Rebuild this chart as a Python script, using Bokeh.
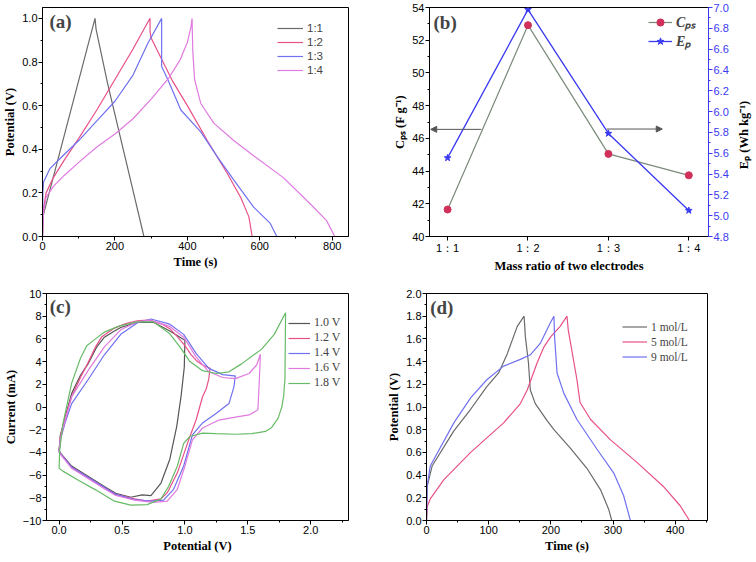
import math
from bokeh.plotting import figure
from bokeh.models import (Range1d, LinearAxis, SingleIntervalTicker, FixedTicker, Legend, LegendItem,
                          Label, Arrow, NormalHead, NumeralTickFormatter)
from bokeh.core.properties import value
from bokeh.layouts import row, column
from bokeh.embed import file_html
from bokeh.resources import INLINE

SERIF = "Liberation Serif"
SANS = "Liberation Sans"

GREY = "#6a6a6a"
RED = "#e8508a"
BLUE = "#7070f0"
MAG = "#e07ae0"
GREEN = "#66bb66"

# ---------------- panel (a): GCD for mass ratios ----------------
a_labels = ["1:1", "1:2", "1:3", "1:4"]
a11_t = [0, 1, 145, 148, 180, 220, 250, 280]
a11_v = [0.0, 0.09, 1.0, 0.95, 0.70, 0.42, 0.21, 0.0]
a12_t = [0, 2, 10, 30, 60, 100, 150, 200, 250, 290, 297, 297, 300, 327, 360, 400, 455, 510, 547, 570, 579]
a12_v = [0, 0.12, 0.2, 0.27, 0.35, 0.45, 0.58, 0.72, 0.86, 0.98, 1.0, 0.94, 0.91, 0.82, 0.71, 0.6, 0.44, 0.29, 0.18, 0.09, 0]
a13_t = [0, 1, 3, 20, 50, 100, 150, 200, 250, 291, 329, 329, 346, 382, 437, 483, 528, 583, 629, 647]
a13_v = [0, 0.2, 0.25, 0.31, 0.36, 0.44, 0.53, 0.62, 0.74, 0.886, 1.0, 0.78, 0.72, 0.58, 0.48, 0.365, 0.26, 0.135, 0.06, 0]
a14_t = [0, 2, 10, 30, 60, 100, 150, 200, 250, 300, 350, 380, 400, 410, 413, 415, 420, 437, 473, 528, 583, 665, 739, 784, 807]
a14_v = [0, 0.1, 0.18, 0.23, 0.28, 0.34, 0.41, 0.47, 0.54, 0.63, 0.73, 0.81, 0.89, 0.96, 1.0, 0.85, 0.72, 0.61, 0.52, 0.44, 0.37, 0.27, 0.15, 0.074, 0]

# ---------------- panel (b): Cps and Ep vs mass ratio ----------------
b_categories = ["1：1", "1：2", "1：3", "1：4"]
b_index = [1, 2, 3, 4]
b_cps = [41.65, 52.92, 45.05, 43.74]
b_ep = [5.555, 6.98, 5.79, 5.05]
b_arrow_left = [1.42, 0.79, 46.55]    # x_start, x_end, y (left axis units)
b_arrow_right = [2.98, 3.67, 46.57]

# ---------------- panel (c): CV at different voltage windows ----------------
c_labels = ["1.0 V", "1.2 V", "1.4 V", "1.6 V", "1.8 V"]
c10_e = [0.0, 0.01, 0.05, 0.1, 0.17, 0.23, 0.3, 0.36, 0.44, 0.49, 0.62, 0.75, 0.88, 0.99, 1.0,
         0.995, 0.97, 0.935, 0.88, 0.81, 0.73, 0.66, 0.57, 0.45, 0.36, 0.23, 0.1, 0.01, 0.0]
c10_i = [-3.8, -2.5, -0.8, 1.2, 2.8, 3.8, 5.3, 6.15, 6.7, 7.0, 7.46, 7.46, 6.7, 5.95, 5.9,
         3.5, 1.0, -1.7, -4.6, -6.7, -7.8, -7.75, -7.95, -7.6, -7.0, -6.1, -5.2, -4.05, -3.8]
c12_e = [0.0, 0.01, 0.05, 0.1, 0.17, 0.23, 0.29, 0.34, 0.44, 0.53, 0.62, 0.7, 0.75, 0.82, 0.88, 0.94, 1.0, 1.05, 1.09, 1.14, 1.2,
         1.19, 1.17, 1.14, 1.09, 1.03, 0.94, 0.86, 0.81, 0.70, 0.6, 0.45, 0.36, 0.23, 0.1, 0.01, 0.0]
c12_i = [-3.9, -2.6, -0.9, 0.9, 2.6, 3.9, 5.3, 6.2, 6.95, 7.35, 7.6, 7.65, 7.55, 7.3, 6.9, 6.2, 5.4, 4.6, 4.1, 3.7, 3.4,
         2.5, 1.6, 0.9, -1.1, -2.9, -5.8, -7.55, -8.1, -8.3, -8.1, -7.7, -7.1, -6.2, -5.3, -4.1, -3.9]
c14_e = [0.0, 0.01, 0.05, 0.1, 0.23, 0.36, 0.49, 0.62, 0.73, 0.88, 0.99, 1.09, 1.19, 1.3, 1.39, 1.4,
         1.39, 1.35, 1.25, 1.14, 1.06, 0.99, 0.91, 0.83, 0.73, 0.6, 0.45, 0.36, 0.23, 0.1, 0.01, 0.0]
c14_i = [-4.0, -2.9, -1.3, 0.3, 2.4, 4.6, 6.4, 7.4, 7.75, 7.3, 6.4, 4.7, 3.4, 2.85, 2.75, 2.75,
         1.8, 0.3, -0.55, -1.4, -2.45, -5.2, -7.25, -8.2, -8.3, -8.15, -7.7, -7.1, -6.2, -5.3, -4.1, -4.0]
c16_e = [0.0, 0.01, 0.05, 0.1, 0.23, 0.36, 0.49, 0.62, 0.72, 0.88, 0.99, 1.09, 1.19, 1.3, 1.4, 1.51, 1.57, 1.6,
         1.59, 1.58, 1.51, 1.4, 1.27, 1.14, 1.06, 1.0, 0.94, 0.86, 0.75, 0.6, 0.45, 0.36, 0.23, 0.1, 0.01, 0.0]
c16_i = [-4.0, -2.8, -1.1, 0.9, 3.2, 5.3, 6.8, 7.5, 7.65, 7.1, 6.15, 4.4, 3.1, 2.6, 2.5, 2.95, 3.7, 4.65,
         2.0, -0.25, -0.7, -0.9, -1.15, -1.85, -2.9, -5.2, -7.25, -8.3, -8.4, -8.2, -7.8, -7.2, -6.3, -5.4, -4.15, -4.0]
c18_e = [0.0, 0.005, 0.03, 0.1, 0.17, 0.22, 0.29, 0.36, 0.47, 0.62, 0.75, 0.88, 0.96, 1.04, 1.14, 1.25, 1.35, 1.45, 1.61, 1.71, 1.8,
         1.795, 1.785, 1.77, 1.74, 1.69, 1.64, 1.53, 1.4, 1.25, 1.14, 1.04, 0.99, 0.94, 0.87, 0.81, 0.7, 0.57, 0.44, 0.29, 0.16, 0.03, 0.0]
c18_i = [-5.4, -3.8, -1.5, 2.1, 4.3, 5.4, 6.0, 6.6, 7.1, 7.5, 7.5, 6.45, 5.3, 4.0, 3.2, 2.95, 3.1, 3.8, 5.1, 6.4, 8.3,
         2.5, 1.0, 0.0, -1.0, -1.8, -2.15, -2.35, -2.4, -2.35, -2.3, -2.6, -3.2, -5.2, -7.0, -8.1, -8.6, -8.65, -8.3, -7.3, -6.5, -5.65, -5.4]

# ---------------- panel (d): GCD at different electrolyte concentrations ----------------
d_labels = ["1 mol/L", "5 mol/L", "9 mol/L"]
d1_t = [0, 1, 9, 44, 71, 97, 116, 130, 146, 157, 159, 164, 167, 175, 194, 205, 231, 258, 280, 293, 298]
d1_v = [0, 0.3, 0.48, 0.79, 0.98, 1.18, 1.3, 1.47, 1.71, 1.8, 1.62, 1.39, 1.15, 1.03, 0.88, 0.8, 0.64, 0.46, 0.27, 0.1, 0]
d5_t = [0, 1, 6, 28, 71, 124, 151, 162, 178, 189, 200, 215, 226, 228, 242, 247, 264, 296, 339, 381, 408, 423]
d5_v = [0, 0.12, 0.19, 0.36, 0.6, 0.86, 1.03, 1.15, 1.39, 1.53, 1.62, 1.71, 1.8, 1.68, 1.24, 1.04, 0.89, 0.71, 0.51, 0.30, 0.13, 0]
d9_t = [0, 1, 6, 44, 71, 97, 124, 151, 167, 183, 199, 205, 206, 210, 221, 242, 274, 301, 317, 328]
d9_v = [0, 0.3, 0.48, 0.86, 1.08, 1.24, 1.36, 1.42, 1.46, 1.56, 1.74, 1.8, 1.62, 1.3, 1.12, 0.89, 0.63, 0.42, 0.22, 0]


def make_fig(w, h, xr, yr, bl, br, bt, bb, **kw):
    p = figure(width=w, height=h, x_range=Range1d(*xr), y_range=Range1d(*yr),
               output_backend="svg", toolbar_location=None,
               min_border_left=bl, min_border_right=br, min_border_top=bt, min_border_bottom=bb, **kw)
    p.grid.visible = False
    p.outline_line_color = "black"
    p.outline_line_alpha = 1
    p.outline_line_width = 1
    return p


def style_axis(ax, color="black"):
    ax.major_label_text_font = SANS
    ax.major_label_text_font_size = "11px"
    ax.major_label_text_color = color
    ax.axis_label_text_font = SERIF
    ax.axis_label_text_font_size = "12.5px"
    ax.axis_label_text_font_style = "bold"
    ax.axis_label_text_color = "black"
    ax.axis_line_color = color
    ax.major_tick_line_color = color
    ax.minor_tick_line_color = color
    ax.major_tick_out = 4
    ax.major_tick_in = 0
    ax.minor_tick_out = 2
    ax.minor_tick_in = 0
    ax.major_label_standoff = 1
    ax.axis_label_standoff = 2


def add_legend(p, items, loc, font, size, row_h, glyph_w=26, style="normal"):
    lg = Legend(items=items, location=loc, label_text_font=font, label_text_font_size=size,
                label_text_font_style=style, glyph_width=glyph_w, glyph_height=row_h,
                label_height=row_h, spacing=0, padding=0, margin=0, label_standoff=4,
                border_line_alpha=0, background_fill_alpha=0)
    p.add_layout(lg)


def panel_label(p, x, y, text):
    p.add_layout(Label(x=x, y=y, text=text, text_font=SERIF, text_font_size="19px",
                       text_font_style="bold", text_baseline="top"))


TOP_H = 280
BOT_H = 281

# ---- (a)
pa = make_fig(378, TOP_H, (0, 845), (0, 1.05), 41, 30, 7, 44)
pa.xaxis.ticker = SingleIntervalTicker(interval=200, num_minor_ticks=2)
pa.yaxis.ticker = SingleIntervalTicker(interval=0.2, num_minor_ticks=2)
pa.yaxis.formatter = NumeralTickFormatter(format="0.0")
pa.xaxis.axis_label = "Time (s)"
pa.yaxis.axis_label = "Potential (V)"
for ax in pa.xaxis + pa.yaxis:
    style_axis(ax)
ra = []
for t, v, c in [(a11_t, a11_v, GREY), (a12_t, a12_v, RED), (a13_t, a13_v, BLUE), (a14_t, a14_v, MAG)]:
    ra.append(pa.line(t, v, line_color=c, line_width=1.2))
add_legend(pa, [LegendItem(label=l, renderers=[r]) for l, r in zip(a_labels, ra)],
           (235, 159), SANS, "11.5px", 14)
panel_label(pa, 19, 1.032, "(a)")

# ---- (b)
pb = make_fig(353, TOP_H, (0.775, 4.245), (40, 54), 51, 23, 6, 44)
pb.xaxis.ticker = FixedTicker(ticks=b_index)
pb.xaxis.major_label_overrides = {i: c for i, c in zip(b_index, b_categories)}
pb.yaxis.ticker = SingleIntervalTicker(interval=2, num_minor_ticks=2)
pb.xaxis.axis_label = "Mass ratio of two electrodes"
pb.yaxis.axis_label = "Cₚₛ (F g⁻¹)"
pb.extra_y_ranges = {"ep": Range1d(4.8, 7.0)}
ax_r = LinearAxis(y_range_name="ep",
                  ticker=SingleIntervalTicker(interval=0.2, num_minor_ticks=2),
                  formatter=NumeralTickFormatter(format="0.0"))
pb.add_layout(ax_r, "right")
for ax in pb.xaxis + pb.yaxis[:1]:
    style_axis(ax)
style_axis(ax_r, "#3a3af0")
pb.xaxis.minor_tick_line_color = None
l1 = pb.line(b_index, b_cps, line_color="#7a8a7a", line_width=1.2)
s1 = pb.scatter(b_index, b_cps, marker="circle", size=7, fill_color="#d0305a", line_color="#d0305a")
l2 = pb.line(b_index, b_ep, line_color="#3a3af0", line_width=1.3, y_range_name="ep")
s2 = pb.scatter(b_index, b_ep, marker="star", size=7, fill_color="#3a3af0", line_color="#3a3af0",
                y_range_name="ep")
add_legend(pb, [LegendItem(label="Cₚₛ", renderers=[l1, s1]), LegendItem(label="Eₚ", renderers=[l2, s2])],
           (219, 186), SERIF, "14px", 18, glyph_w=24, style="bold italic")
pb.add_layout(Arrow(end=NormalHead(size=6, fill_color="#555555", line_color="#555555"),
                    x_start=b_arrow_left[0], x_end=b_arrow_left[1], y_start=b_arrow_left[2], y_end=b_arrow_left[2],
                    line_color="#555555", line_width=1))
pb.add_layout(Arrow(end=NormalHead(size=6, fill_color="#555555", line_color="#555555"),
                    x_start=b_arrow_right[0], x_end=b_arrow_right[1], y_start=b_arrow_right[2], y_end=b_arrow_right[2],
                    line_color="#555555", line_width=1))
panel_label(pb, 0.825, 53.7, "(b)")

# ---- right-axis title of (b), reading bottom-to-top as in the reference
pt = figure(width=24, height=TOP_H, x_range=Range1d(0, 1), y_range=Range1d(40, 54),
            output_backend="svg", toolbar_location=None, x_axis_type=None, y_axis_type=None,
            min_border_left=0, min_border_right=0, min_border_top=6, min_border_bottom=44)
pt.grid.visible = False
pt.outline_line_color = None
pt.text(x=[0.5], y=[46.2], text=["Eₚ (Wh kg⁻¹)"], angle=math.pi / 2, text_align="center",
        text_baseline="middle", text_font=value(SERIF), text_font_size=value("12.5px"),
        text_font_style="bold", text_color="black")

# ---- (c)
pc = make_fig(378, BOT_H, (-0.1, 2.3), (-10, 10), 46, 30, 13, 41)
pc.xaxis.ticker = SingleIntervalTicker(interval=0.5, num_minor_ticks=2)
pc.yaxis.ticker = SingleIntervalTicker(interval=2, num_minor_ticks=2)
pc.xaxis.formatter = NumeralTickFormatter(format="0.0")
pc.xaxis.axis_label = "Potential (V)"
pc.yaxis.axis_label = "Current (mA)"
for ax in pc.xaxis + pc.yaxis:
    style_axis(ax)
rc = []
for e, i, c in [(c10_e, c10_i, "#555555"), (c12_e, c12_i, RED), (c14_e, c14_i, BLUE),
                (c16_e, c16_i, MAG), (c18_e, c18_i, GREEN)]:
    rc.append(pc.line(e, i, line_color=c, line_width=1.2))
add_legend(pc, [LegendItem(label=l, renderers=[r]) for l, r in zip(c_labels, rc)],
           (242, 130), SERIF, "12px", 14, glyph_w=22)
panel_label(pc, -0.075, 9.8, "(c)")

# ---- (d)
pd_ = make_fig(377, BOT_H, (0, 452), (0, 2.0), 48, 48, 13, 41)
pd_.xaxis.ticker = SingleIntervalTicker(interval=100, num_minor_ticks=2)
pd_.yaxis.ticker = SingleIntervalTicker(interval=0.2, num_minor_ticks=2)
pd_.yaxis.formatter = NumeralTickFormatter(format="0.0")
pd_.xaxis.axis_label = "Time (s)"
pd_.yaxis.axis_label = "Potential (V)"
for ax in pd_.xaxis + pd_.yaxis:
    style_axis(ax)
rd = []
for t, v, c in [(d1_t, d1_v, GREY), (d5_t, d5_v, RED), (d9_t, d9_v, BLUE)]:
    rd.append(pd_.line(t, v, line_color=c, line_width=1.2))
add_legend(pd_, [LegendItem(label=l, renderers=[r]) for l, r in zip(d_labels, rd)],
           (196, 156), SERIF, "11.5px", 15, glyph_w=25)
panel_label(pd_, 6, 1.968, "(d)")

layout = column(row(pa, pb, pt), row(pc, pd_))
open("out.html", "w").write(file_html(layout, INLINE))
